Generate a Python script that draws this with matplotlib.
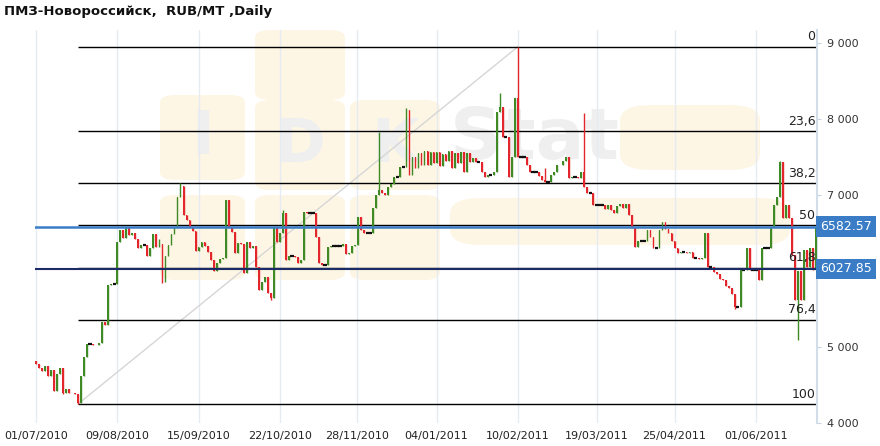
import numpy as np
import pandas as pd
import matplotlib
matplotlib.use('Agg')
from matplotlib import pyplot, patches, transforms

# daily closes, 01/07/2010 .. 28/06/2011 (business days)
closes = [
    4780, 4720, 4680, 4750, 4620, 4700, 4420, 4650, 4720, 4400,
    4450, 4400, 4390, 4380, 4260, 4620, 4870, 5040, 5040, 5020,
    5030, 5050, 5330, 5290, 5820, 5830, 5830, 6380, 6540, 6440,
    6560, 6470, 6500, 6420, 6300, 6340, 6340, 6200, 6300, 6480,
    6320, 6350, 5850, 6200, 6340, 6490, 6580, 6970, 7120, 6740,
    6670, 6580, 6520, 6260, 6310, 6380, 6330, 6250, 6150, 6000,
    6100, 6160, 6170, 6930, 6580, 6510, 6240, 6370, 6350, 5970,
    6380, 6300, 6330, 6050, 5750, 5850, 5920, 5710, 5640, 6580,
    6380, 6500, 6760, 6150, 6200, 6200, 6180, 6100, 6150, 6780,
    6760, 6760, 6760, 6450, 6100, 6080, 6080, 6320, 6330, 6330,
    6330, 6330, 6360, 6220, 6230, 6330, 6340, 6710, 6540, 6500,
    6500, 6500, 6830, 7000, 7070, 7030, 7000, 7110, 7150, 7240,
    7240, 7370, 7370, 8120, 7260, 7500, 7350, 7550, 7400, 7580,
    7400, 7560, 7420, 7560, 7380, 7540, 7450, 7580, 7360, 7550,
    7420, 7570, 7300, 7550, 7430, 7480, 7430, 7430, 7300, 7240,
    7260, 7260, 7300, 8090, 8160, 7760, 7760, 7240, 7500, 8280,
    7500, 7500, 7500, 7400, 7300, 7300, 7300, 7250, 7200, 7170,
    7170, 7260, 7300, 7390, 7400, 7450, 7500, 7220, 7230, 7230,
    7220, 7300, 7110, 7030, 7030, 6870, 6870, 6870, 6870, 6820,
    6870, 6800, 6760, 6850, 6880, 6830, 6880, 6740, 6570, 6320,
    6400, 6400, 6400, 6540, 6450, 6300, 6300, 6540, 6650, 6550,
    6500, 6400, 6300, 6240, 6250, 6250, 6240, 6250, 6170, 6170,
    6160, 6170, 6500, 6050, 6050, 5990, 5960, 5900, 5880, 5800,
    5780, 5700, 5530, 5530, 6010, 6010, 6300, 6010, 6010, 6010,
    5880, 6300, 6300, 6300, 6580, 6870, 6970, 7430, 6700, 6870,
    6700, 6210, 5620, 6000, 5620, 6280, 6050, 6300, 6010, 6580,
]
first_open = 4820

# bars with a wick beyond the body
wick_high_idx = [48, 82, 114, 123, 154, 160, 169, 182, 247, 41]
wick_high_val = [7160, 6800, 7830, 8150, 8340, 8950, 7360, 8080, 7450, 6420]
wick_low_idx = [14, 42, 78, 253, 9, 232]
wick_low_val = [4250, 5840, 5620, 5090, 4380, 5500]

tick_dates = ['01/07/2010', '09/08/2010', '15/09/2010', '22/10/2010', '28/11/2010',
              '04/01/2011', '10/02/2011', '19/03/2011', '25/04/2011', '01/06/2011']

fib_levels = [0, 23.6, 38.2, 50, 61.8, 76.4, 100]
fib_labels = ['0', '23,6', '38,2', '50', '61,8', '76,4', '100']
fib_start = 14
fib_end = 160

price_lines = [6582.57, 6027.85]
price_colors = ['#3a7dc6', '#1b2b66']

y_ticks = [4000, 5000, 7000, 8000, 9000]

dpi = 100
figure = pyplot.figure(figsize=(8.8, 4.46), dpi=dpi)
W, H = 880.0, 446.0
x0, x1, y0, y1 = 35, 817, 30, 423
ax = figure.add_axes([x0 / W, 1 - y1 / H, (x1 - x0) / W, (y1 - y0) / H])

n = len(closes)
dates = pd.bdate_range('2010-07-01', periods=n)
xs = np.arange(n)
ax.set_xlim(-0.3, n - 0.7)
ax.set_ylim(4000, 9170)


def px(p_x, p_y):
    return (p_x - x0) / (x1 - x0), (y1 - p_y) / (y1 - y0)


# faint watermark logo
wm_color = '#fdf6e4'
for (a, b, c, d) in [(160, 95, 245, 180), (255, 30, 345, 100), (255, 100, 345, 190),
                     (350, 100, 440, 190), (160, 195, 245, 280), (255, 195, 345, 280),
                     (350, 195, 440, 280)]:
    lx, ly = px(a, d)
    rx, ry = px(c, b)
    ax.add_patch(patches.FancyBboxPatch((lx, ly), rx - lx, ry - ly,
                                        boxstyle='round,pad=0,rounding_size=0.02',
                                        transform=ax.transAxes, facecolor=wm_color,
                                        edgecolor='none', zorder=0))
for (a, b, c, d) in [(450, 198, 790, 245), (620, 105, 760, 170)]:
    lx, ly = px(a, d)
    rx, ry = px(c, b)
    ax.add_patch(patches.FancyBboxPatch((lx, ly), rx - lx, ry - ly,
                                        boxstyle='round,pad=0,rounding_size=0.04',
                                        transform=ax.transAxes, facecolor=wm_color,
                                        edgecolor='none', zorder=0))
for txt, a, b, fs in [('I', 203, 138, 44), ('D', 300, 145, 44), ('K', 395, 145, 44),
                      ('Stat', 535, 140, 52)]:
    tx, ty = px(a, b)
    ax.text(tx, ty, txt, transform=ax.transAxes, fontsize=fs, fontweight='bold',
            color='#efefef', ha='center', va='center', zorder=0)

# date ticks: position of each date among the trading days
day_num = dates.map(pd.Timestamp.toordinal).values
tick_pos = [np.interp(pd.to_datetime(t, dayfirst=True).toordinal(), day_num, xs) for t in tick_dates]
ax.set_xticks(tick_pos)
ax.set_xticklabels(tick_dates)
for t in tick_pos:
    ax.axvline(t, color='#e6ebf1', lw=1, zorder=0.5)

# candles
opens = [first_open] + closes[:-1]
highs = [max(o, c) for o, c in zip(opens, closes)]
lows = [min(o, c) for o, c in zip(opens, closes)]
for i, v in zip(wick_high_idx, wick_high_val):
    highs[i] = v
for i, v in zip(wick_low_idx, wick_low_val):
    lows[i] = v
for i in range(n):
    o, c = opens[i], closes[i]
    if c > o:
        col = '#3f8a24'
    elif c < o:
        col = '#e3262b'
    else:
        col = '#111111'
    ax.vlines(i, lows[i], highs[i], color=col, lw=1, zorder=3)
    if c == o:
        ax.hlines(c, i - 0.55, i + 0.55, color=col, lw=1.6, zorder=3)
    else:
        ax.bar(i, abs(c - o), bottom=min(o, c), width=0.6, color=col, zorder=3, linewidth=0)

# fibonacci retracement
f_hi = highs[fib_end]
f_lo = lows[fib_start]
ax.plot([fib_start, fib_end], [f_lo, f_hi], color='#d6d6d6', lw=1, zorder=2)
for lev, lab in zip(fib_levels, fib_labels):
    val = f_hi - (f_hi - f_lo) * lev / 100
    ax.hlines(val, fib_start, n - 0.7, color='black', lw=1, zorder=2)
    ax.text(n - 1.2, val + 45, lab, ha='right', va='bottom', fontsize=9, color='#222222', zorder=4)

# price lines with labels on the right
trans = transforms.blended_transform_factory(ax.transAxes, ax.transData)
for val, col, lw in zip(price_lines, price_colors, [1.8, 1.5]):
    ax.axhline(val, color=col, lw=lw, zorder=4)
    ax.text(1.004, val, '%.2f' % val, transform=trans, ha='left', va='center',
            fontsize=9, color='white', zorder=5,
            bbox=dict(boxstyle='square,pad=0.3', facecolor='#3a7dc6', edgecolor='none'))

ax.yaxis.tick_right()
ax.set_yticks(y_ticks)
ax.set_yticklabels(['{:,}'.format(v).replace(',', ' ') for v in y_ticks])
ax.tick_params(axis='y', length=3, color='#c8d2de', labelsize=8, labelcolor='#333333', pad=4)
ax.tick_params(axis='x', length=0, labelsize=8, labelcolor='#222222', pad=6)
for side in ['top', 'left', 'bottom']:
    ax.spines[side].set_visible(False)
ax.spines['right'].set_color('#d3dde9')
ax.spines['right'].set_linewidth(1.5)

figure.text(4 / W, 1 - 12 / H, 'ПМЗ-Новороссийск,  RUB/MT ,Daily', fontsize=9.5,
            fontweight='bold', color='#111111', va='center', ha='left')

pyplot.savefig('out.png', dpi=dpi)
pyplot.close(figure)
